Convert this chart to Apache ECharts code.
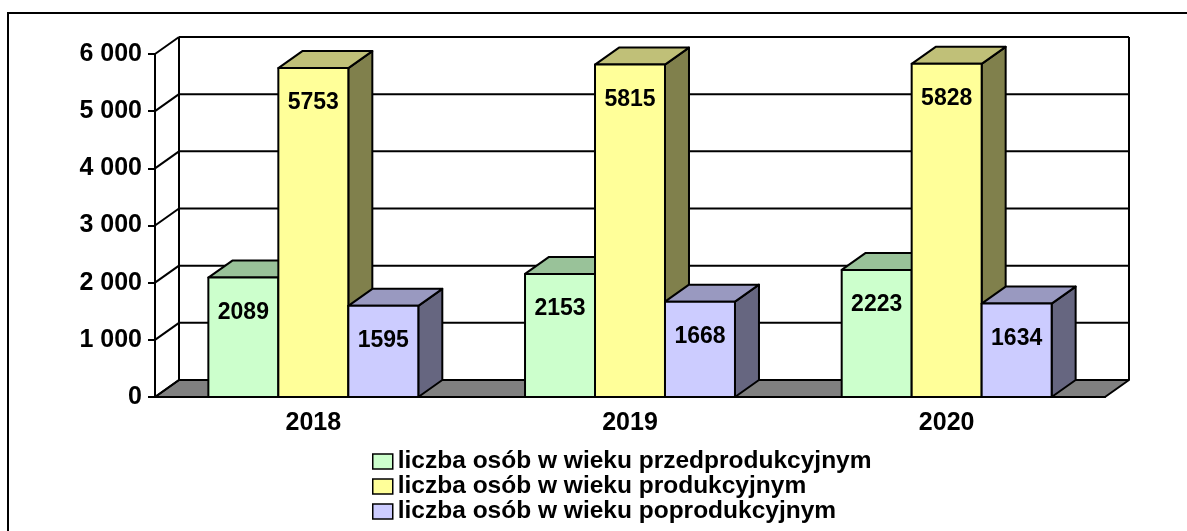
<!DOCTYPE html>
<html>
<head>
<meta charset="utf-8">
<script src="https://cdn.jsdelivr.net/npm/echarts@6/dist/echarts.min.js"></script>
<style>
  html, body { margin: 0; padding: 0; background: #fff; }
  #chart { width: 1187px; height: 531px; }
</style>
</head>
<body>
<div id="chart"></div>
<script>
const years = ['2018', '2019', '2020'];
const seriesNames = [
  'liczba osób w wieku przedprodukcyjnym',
  'liczba osób w wieku produkcyjnym',
  'liczba osób w wieku poprodukcyjnym'
];
const przedprodukcyjny = [2089, 2153, 2223];
const produkcyjny = [5753, 5815, 5828];
const poprodukcyjny = [1595, 1668, 1634];
const yTicks = [0, 1000, 2000, 3000, 4000, 5000, 6000];

const FONT = '"Liberation Sans", Arial, sans-serif';
const DX = 24, DY = -17;      // przesuniecie "glebi" 3D
const BAR_PART = 0.221;       // szerokosc slupka jako czesc kategorii
const EDGE = { stroke: '#000', lineWidth: 2, lineJoin: 'round' };

// sciany wykresu: siatka na tylnej scianie, lewa sciana, podloga
function renderFrame(params, api) {
  const cs = params.coordSys;
  const v = api.value(1);
  const y = api.coord([0, v])[1];
  const left = cs.x, right = cs.x + cs.width;
  const children = [];
  if (v === 0) {
    children.push({
      type: 'polygon',
      shape: { points: [[left, y], [left + DX, y + DY], [right + DX, y + DY], [right, y]] },
      style: Object.assign({ fill: '#808080' }, EDGE)
    });
    children.push({ type: 'line', shape: { x1: left + DX, y1: y + DY, x2: left + DX, y2: cs.y + DY }, style: EDGE });
    children.push({ type: 'line', shape: { x1: right + DX, y1: y + DY, x2: right + DX, y2: cs.y + DY }, style: EDGE });
  }
  children.push({ type: 'line', shape: { x1: left + DX, y1: y + DY, x2: right + DX, y2: y + DY }, style: EDGE });
  children.push({ type: 'line', shape: { x1: left, y1: y, x2: left + DX, y2: y + DY }, style: EDGE });
  return { type: 'group', children: children };
}

function makeBar(k, face, top, side) {
  return function (params, api) {
    const cat = api.value(0), val = api.value(1);
    const base = api.coord([cat, 0]);
    const peak = api.coord([cat, val]);
    const w = api.size([1, 0])[0] * BAR_PART;
    const x0 = base[0] + k * w - w / 2, x1 = x0 + w;
    const yb = base[1], yt = peak[1];
    return {
      type: 'group',
      children: [
        { type: 'polygon', shape: { points: [[x1, yt], [x1 + DX, yt + DY], [x1 + DX, yb + DY], [x1, yb]] },
          style: Object.assign({ fill: side }, EDGE) },
        { type: 'polygon', shape: { points: [[x0, yt], [x0 + DX, yt + DY], [x1 + DX, yt + DY], [x1, yt]] },
          style: Object.assign({ fill: top }, EDGE) },
        { type: 'rect', shape: { x: x0, y: yt, width: w, height: yb - yt },
          style: Object.assign({ fill: face }, EDGE) },
        { type: 'text', x: (x0 + x1) / 2, y: yt + 35,
          style: { text: String(val), fontFamily: FONT, fontWeight: 'bold', fontSize: 23,
                   fill: '#000', align: 'center', verticalAlign: 'middle' } }
      ]
    };
  };
}

const chart = echarts.init(document.getElementById('chart'));

const option = {
  backgroundColor: '#fff',
  animation: false,
  grid: { left: 155, right: 82, top: 54, bottom: 134 },
  graphic: [{
    type: 'rect',
    shape: { x: 8, y: 13, width: 1400, height: 800 },
    style: { fill: 'none', stroke: '#000', lineWidth: 2 },
    silent: true
  }],
  legend: {
    orient: 'vertical',
    left: 372,
    top: 449,
    padding: 0,
    itemGap: 0,
    itemWidth: 20,
    itemHeight: 15,
    icon: 'rect',
    itemStyle: { borderColor: '#000', borderWidth: 1.5 },
    textStyle: { fontFamily: FONT, fontWeight: 'bold', fontSize: 24.5, lineHeight: 24, color: '#000' },
    data: seriesNames
  },
  xAxis: {
    type: 'category',
    data: years,
    axisLine: { lineStyle: { color: '#000', width: 2 } },
    axisTick: { length: 6, lineStyle: { color: '#000', width: 2 } },
    axisLabel: { margin: 14, fontFamily: FONT, fontWeight: 'bold', fontSize: 25, color: '#000' },
    splitLine: { show: false }
  },
  yAxis: {
    type: 'value',
    min: 0,
    max: 6000,
    interval: 1000,
    axisLine: { show: true, lineStyle: { color: '#000', width: 2 } },
    axisTick: { show: true, length: 7, lineStyle: { color: '#000', width: 2 } },
    axisLabel: {
      margin: 13, fontFamily: FONT, fontWeight: 'bold', fontSize: 25, color: '#000',
      formatter: v => String(v).replace(/\B(?=(\d{3})+(?!\d))/g, ' ')
    },
    splitLine: { show: false }
  },
  series: [
    {
      type: 'custom', name: 'frame', silent: true, z: 1,
      renderItem: renderFrame,
      encode: { x: 0, y: 1 },
      data: yTicks.map(v => [0, v])
    },
    {
      type: 'custom', name: seriesNames[0], z: 2,
      itemStyle: { color: '#CCFFCC' },
      renderItem: makeBar(-1, '#CCFFCC', '#99C299', '#668066'),
      encode: { x: 0, y: 1 },
      data: przedprodukcyjny.map((v, i) => [i, v])
    },
    {
      type: 'custom', name: seriesNames[1], z: 2,
      itemStyle: { color: '#FFFF99' },
      renderItem: makeBar(0, '#FFFF99', '#C0C078', '#80804C'),
      encode: { x: 0, y: 1 },
      data: produkcyjny.map((v, i) => [i, v])
    },
    {
      type: 'custom', name: seriesNames[2], z: 2,
      itemStyle: { color: '#CCCCFF' },
      renderItem: makeBar(1, '#CCCCFF', '#9999C0', '#666680'),
      encode: { x: 0, y: 1 },
      data: poprodukcyjny.map((v, i) => [i, v])
    }
  ]
};

chart.setOption(option);
</script>
</body>
</html>
